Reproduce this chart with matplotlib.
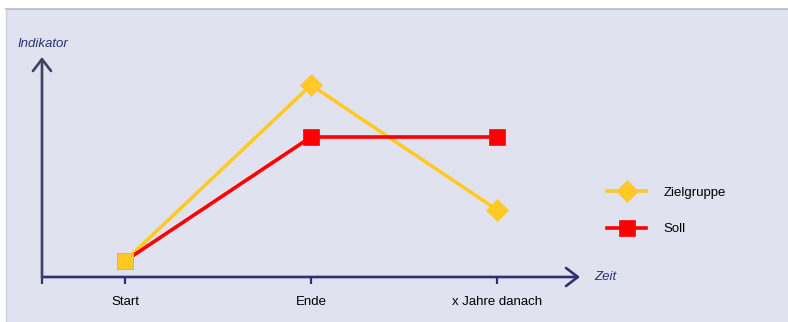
import matplotlib
matplotlib.use("Agg")
import matplotlib.pyplot as plt
from matplotlib.patches import Rectangle
from matplotlib.lines import Line2D

plt.rcParams['font.family'] = ['Liberation Sans', 'DejaVu Sans']

# Data
categories = ["Start", "Ende", "x Jahre danach"]
zielgruppe = [1.0, 12.0, 4.2]
soll = [1.0, 8.75, 8.75]

W, H = 788, 322
fig = plt.figure(figsize=(W / 100, H / 100), dpi=100, facecolor="white")

bg = "#E0E2EF"
navy = "#2E3170"
ygray = "#3E4163"
yellow = "#FFC926"
red = "#FF0000"

# Panel background with thin border on top and left
fig.patches.append(Rectangle((6 / W, 0), 1 - 6 / W, 1 - 9 / H, transform=fig.transFigure,
                             facecolor=bg, edgecolor="none", zorder=-10))
fig.add_artist(Line2D([5.5 / W, 1], [1 - 8.5 / H, 1 - 8.5 / H], transform=fig.transFigure,
                      color="#B4B5C8", lw=1.2, zorder=-5))
fig.add_artist(Line2D([5.5 / W, 5.5 / W], [0, 1 - 8.5 / H], transform=fig.transFigure,
                      color="#CDCEDC", lw=1.0, zorder=-5))

# Axes area spanning from the origin to the arrow tips
x0px, x1px = 42, 580
y0px, y1px = 277, 57
ax = fig.add_axes([x0px / W, 1 - y0px / H, (x1px - x0px) / W, (y0px - y1px) / H])
ax.set_facecolor("none")
ax.set_zorder(1)

xs = [1, 2, 3]
step = 186.0
xmin = 1 - (125 - x0px) / step
xmax = xmin + (x1px - x0px) / step
ax.set_xlim(xmin, xmax)
ax.set_ylim(0, (y0px - y1px) / 16.0)

for s in ax.spines.values():
    s.set_visible(False)

# Axis arrows
head = "->,head_length=0.85,head_width=0.65"
ax.annotate("", xy=(1.0, 0), xytext=(0, 0), xycoords="axes fraction",
            arrowprops=dict(arrowstyle=head, color=navy, lw=1.9, shrinkA=0, shrinkB=0))
ax.annotate("", xy=(0, 1.0), xytext=(0, 0), xycoords="axes fraction",
            arrowprops=dict(arrowstyle=head, color=ygray, lw=1.9, shrinkA=0, shrinkB=0))

ax.set_xticks([xmin] + xs)
ax.set_xticklabels([""] + categories)
ax.tick_params(axis="x", direction="out", length=5, width=1.6, color=navy,
               pad=9, labelsize=9.5, labelcolor="black")
ax.set_yticks([])

ax.text(-0.045, 1.033, "Indikator", transform=ax.transAxes, style="italic",
        fontsize=9.5, color=navy, ha="left", va="bottom")
ax.text(1.027, 0.0, "Zeit", transform=ax.transAxes, style="italic",
        fontsize=9.5, color=navy, ha="left", va="center")

sq_ms, d_ms = 11.5, 11

# Series
l_soll, = ax.plot(xs, soll, color=red, lw=2.6, marker="s", markersize=sq_ms,
                  markeredgewidth=0.5, markeredgecolor=red, label="Soll",
                  zorder=3, clip_on=False)
l_ziel, = ax.plot(xs, zielgruppe, color=yellow, lw=2.6, marker="D", markersize=d_ms,
                  markeredgewidth=0.5, markeredgecolor=yellow, markevery=[1, 2],
                  label="Zielgruppe", zorder=2, clip_on=False)
# Shared start point
ax.plot(xs[:1], zielgruppe[:1], linestyle="none", marker="s", markersize=sq_ms - 0.5,
        color=yellow, markeredgewidth=0.5, markeredgecolor=yellow, zorder=4)

h_ziel = Line2D([], [], color=yellow, lw=2.6, marker="D", markersize=d_ms,
                markeredgewidth=0.5, markeredgecolor=yellow)
h_soll = Line2D([], [], color=red, lw=2.6, marker="s", markersize=sq_ms,
                markeredgewidth=0.5, markeredgecolor=red)
fig.legend([h_ziel, h_soll], ["Zielgruppe", "Soll"], loc="center left",
           bbox_to_anchor=(595 / W, 1 - 211 / H), frameon=False, fontsize=9.5,
           handlelength=3.0, handletextpad=1.3, labelspacing=1.85)

fig.savefig("out.png", dpi=100, facecolor="white")
